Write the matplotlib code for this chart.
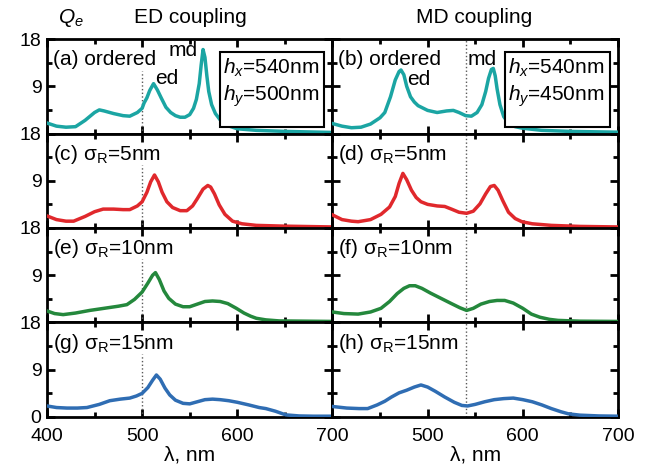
import matplotlib
matplotlib.use("Agg")
import matplotlib.pyplot as plt
from matplotlib.ticker import MultipleLocator
from matplotlib.patches import Rectangle

plt.rcParams['font.family'] = ['Liberation Sans', 'DejaVu Sans']
plt.rcParams['mathtext.fontset'] = 'custom'
plt.rcParams['mathtext.rm'] = 'Liberation Sans'
plt.rcParams['mathtext.it'] = 'Liberation Sans:italic'

########## DATOS ##########
# (a) ordenado, ED coupling
xa = [400, 410, 420, 430, 440, 450, 455, 460, 470, 480, 487, 495, 500, 502, 505, 508, 512, 516, 520, 525, 530,
      535, 540, 545, 550, 554, 557, 560, 562, 564, 566, 568, 570, 573, 577, 582, 590, 600, 620, 650, 700]
ya = [2.0, 1.4, 1.2, 1.3, 2.5, 4.0, 4.5, 4.3, 3.8, 3.4, 3.3, 4.0, 4.8, 5.8, 6.8, 8.2, 9.5, 8.3, 6.8, 5.0, 4.0,
      3.4, 3.1, 3.1, 3.6, 4.8, 6.5, 9.5, 13.0, 16.0, 14.5, 11.0, 8.0, 5.5, 3.8, 2.6, 1.5, 0.9, 0.6, 0.4, 0.2]
# (b) ordenado, MD coupling
xb = [400, 410, 420, 430, 440, 450, 455, 461, 466, 470, 472, 475, 478, 482, 486, 490, 500, 510, 520, 527, 533,
      540, 546, 552, 557, 561, 564, 567, 569, 571, 573, 576, 580, 585, 592, 600, 620, 650, 700]
yb = [1.9, 1.4, 1.1, 1.2, 1.8, 3.0, 4.0, 7.0, 10.2, 11.8, 12.1, 11.2, 9.0, 7.0, 6.0, 5.3, 4.4, 4.0, 4.3, 4.4, 4.0,
      3.4, 3.3, 4.0, 5.5, 8.0, 10.5, 12.2, 12.4, 11.0, 8.5, 5.5, 3.2, 2.0, 1.3, 1.0, 0.6, 0.4, 0.25]
# (c) sigma=5nm ED
xc = [400, 410, 420, 428, 440, 450, 459, 470, 480, 487, 495, 500, 505, 509, 513, 517, 521, 526, 532, 540, 547,
      553, 558, 564, 569, 572, 576, 581, 587, 595, 605, 620, 650, 700]
yc = [2.3, 1.6, 1.3, 1.3, 2.2, 3.1, 3.6, 3.6, 3.5, 3.5, 4.2, 5.0, 6.8, 8.8, 10.1, 8.8, 6.8, 5.0, 3.9, 3.3, 3.3,
      4.2, 5.6, 7.4, 8.1, 7.8, 6.5, 4.4, 2.6, 1.3, 0.8, 0.5, 0.35, 0.2]
# (d) sigma=5nm MD
xd = [400, 410, 420, 427, 440, 451, 460, 466, 470, 474, 478, 483, 488, 493, 500, 510, 518, 525, 533, 541, 548,
      555, 561, 566, 570, 574, 579, 585, 592, 599, 610, 630, 660, 700]
yd = [2.5, 1.6, 1.3, 1.2, 1.6, 2.6, 4.0, 6.0, 8.5, 10.4, 9.2, 7.2, 5.8, 5.0, 4.5, 4.2, 4.1, 3.6, 3.0, 2.8, 3.2,
      4.6, 6.5, 7.9, 8.1, 7.2, 5.2, 3.0, 1.8, 1.2, 0.8, 0.5, 0.3, 0.2]
# (e) sigma=10nm ED
xe = [400, 408, 417, 430, 445, 460, 475, 484, 492, 500, 506, 511, 514, 518, 523, 528, 535, 543, 550, 558, 566,
      574, 582, 590, 599, 607, 614, 620, 630, 644, 700]
ye = [2.2, 1.7, 1.5, 1.8, 2.3, 2.7, 3.1, 3.4, 4.4, 5.8, 7.5, 9.0, 9.5, 8.2, 6.0, 4.6, 3.5, 3.0, 3.0, 3.5, 4.0,
      4.1, 4.0, 3.6, 2.7, 1.8, 1.2, 0.8, 0.5, 0.3, 0.2]
# (f) sigma=10nm MD
xf = [400, 412, 427, 440, 451, 460, 468, 475, 481, 487, 494, 503, 514, 525, 534, 541, 548, 556, 565, 573, 581,
      590, 600, 609, 618, 628, 637, 660, 700]
yf = [2.0, 1.7, 1.6, 2.0, 2.7, 4.0, 5.5, 6.5, 7.0, 7.0, 6.5, 5.6, 4.6, 3.6, 2.8, 2.3, 2.7, 3.5, 4.0, 4.2, 4.2,
      3.7, 2.7, 1.6, 1.0, 0.6, 0.4, 0.25, 0.2]
# (g) sigma=15nm ED
xg = [400, 410, 421, 432, 442, 455, 466, 477, 487, 494, 500, 506, 511, 515, 519, 524, 529, 535, 543, 550, 558,
      566, 574, 582, 591, 600, 612, 623, 630, 640, 651, 665, 680, 700]
yg = [2.1, 1.8, 1.7, 1.7, 1.8, 2.4, 3.1, 3.4, 3.6, 4.0, 4.5, 5.6, 7.0, 8.0, 7.2, 5.5, 4.2, 3.2, 2.6, 2.5, 2.9,
      3.3, 3.4, 3.3, 3.1, 2.8, 2.3, 1.8, 1.6, 1.1, 0.4, 0.2, 0.15, 0.15]
# (h) sigma=15nm MD
xh = [400, 415, 428, 437, 447, 455, 462, 470, 478, 486, 493, 500, 508, 518, 528, 536, 542, 550, 560, 570, 580,
      590, 600, 610, 620, 630, 640, 648, 660, 680, 700]
yh = [2.0, 1.7, 1.6, 1.6, 2.3, 3.0, 3.8, 4.6, 5.1, 5.7, 6.1, 5.7, 4.9, 3.8, 2.8, 2.2, 2.1, 2.4, 2.9, 3.3, 3.5,
      3.6, 3.3, 2.9, 2.3, 1.6, 1.0, 0.6, 0.35, 0.2, 0.15]

Curvas = [[(xa, ya), (xb, yb)], [(xc, yc), (xd, yd)], [(xe, ye), (xf, yf)], [(xg, yg), (xh, yh)]]
Colores = ["#1ba5a3", "#e0282c", "#24883c", "#2f6db3"]
Etiquetas = [["(a) ordered", "(b) ordered"],
             ["(c) σ$_\\mathrm{R}$=5nm", "(d) σ$_\\mathrm{R}$=5nm"],
             ["(e) σ$_\\mathrm{R}$=10nm", "(f) σ$_\\mathrm{R}$=10nm"],
             ["(g) σ$_\\mathrm{R}$=15nm", "(h) σ$_\\mathrm{R}$=15nm"]]
Cajas = [["$h_x$=540nm", "$h_y$=500nm"], ["$h_x$=540nm", "$h_y$=450nm"]]
Linea_v = [500, 540]

########## FIGURA ##########
fig = plt.figure(figsize=(6.56, 4.70), dpi=100)
gs = fig.add_gridspec(4, 2, left=0.0716, right=0.942, top=0.917, bottom=0.1128, hspace=0, wspace=0)

for i in range(4):
    for j in range(2):
        ax = fig.add_subplot(gs[i, j])
        x, y = Curvas[i][j]
        ax.plot(x, y, color=Colores[i], lw=2.5, zorder=3)
        # linea punteada
        if j == 0:
            ax.plot([Linea_v[j], Linea_v[j]], [0, 12], ls=':', color='0.35', lw=1, zorder=2)
        else:
            ax.axvline(Linea_v[j], ls=':', color='0.35', lw=1, zorder=2)
        ax.set_xlim(400, 700)
        ax.set_ylim(0, 18)
        ax.set_xticks([400, 500, 600, 700])
        ax.xaxis.set_minor_locator(MultipleLocator(50))
        ax.set_yticks([0, 9, 18])
        ax.yaxis.set_minor_locator(MultipleLocator(4.5))
        ax.tick_params(which='both', direction='in', top=True, right=True, width=2, labelsize=14)
        ax.tick_params(axis='x', pad=8)
        ax.tick_params(axis='y', pad=4)
        ax.tick_params(which='major', length=5.5)
        ax.tick_params(which='minor', length=3.5)
        for s in ax.spines.values():
            s.set_linewidth(2)
        if j == 0:
            if i == 3:
                ax.set_yticklabels(['0', '9', '18'])
            else:
                ax.set_yticklabels(['', '9', '18'])
        else:
            ax.set_yticklabels([])
        if i == 3:
            if j == 0:
                ax.set_xticklabels(['400', '500', '600', '700'])
            else:
                ax.set_xticklabels(['', '500', '600', '700'])
            ax.set_xlabel("λ, nm", fontsize=15, labelpad=0)
        else:
            ax.set_xticklabels([])
        ax.text(0.02, 0.78, Etiquetas[i][j], transform=ax.transAxes, fontsize=15, va='center', ha='left')
        if i == 0:
            ax.add_patch(Rectangle((0.605, 0.067), 0.367, 0.798, transform=ax.transAxes,
                                   facecolor='white', edgecolor='black', lw=1.5, zorder=4))
            ax.text(0.616, 0.69, Cajas[j][0], transform=ax.transAxes, fontsize=15, va='center', zorder=5)
            ax.text(0.616, 0.39, Cajas[j][1], transform=ax.transAxes, fontsize=15, va='center', zorder=5)
            if j == 0:
                ax.text(543, 15.9, "md", fontsize=15, ha='center', va='center')
                ax.text(526, 10.4, "ed", fontsize=15, ha='center', va='center')
            else:
                ax.text(557.6, 14.1, "md", fontsize=15, ha='center', va='center')
                ax.text(490.5, 10.2, "ed", fontsize=15, ha='center', va='center')

fig.text(0.108, 0.962, "$Q_e$", fontsize=15, ha='center', va='center')
fig.text(0.29, 0.962, "ED coupling", fontsize=15, ha='center', va='center')
fig.text(0.7226, 0.962, "MD coupling", fontsize=15, ha='center', va='center')

fig.savefig("out.png", dpi=100)
